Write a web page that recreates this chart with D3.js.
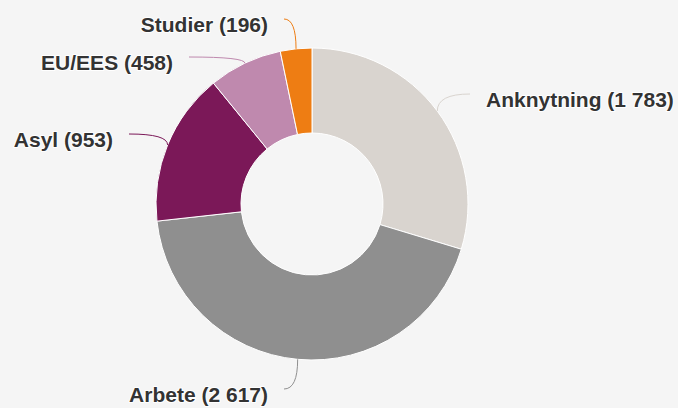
<!DOCTYPE html>
<html>
<head>
<meta charset="utf-8">
<script src="https://cdn.jsdelivr.net/npm/d3@7"></script>
<style>
  html, body { margin: 0; padding: 0; background: #f5f5f5; }
  svg { display: block; }
  .lbl { font-family: "Liberation Sans", Arial, sans-serif; font-weight: bold; font-size: 21px; fill: #333;
         stroke: #fff; stroke-width: 2px; paint-order: stroke; stroke-linejoin: round; }
</style>
</head>
<body>
<div class="chart"></div>
<script>
// Data
var categories = ['Anknytning', 'Arbete', 'Asyl', 'EU/EES', 'Studier'];
var values = [1783, 2617, 953, 458, 196];
var colors = ['#d9d4cf', '#8f8f8f', '#7b1858', '#bf89ae', '#ee7d13'];

// label placement (text anchor x, baseline y, side)
var labelX = [486, 268, 113, 173, 268];
var labelY = [107, 402, 147, 70, 32];
var labelSide = ['right', 'left', 'left', 'left', 'left'];

var width = 678;
var height = 408;
var cx = 312, cy = 204;
var outerR = 156, innerR = 71;

var fmt = function(v) { return d3.format(',')(v).replace(/,/g, ' '); };

var data = categories.map(function(c, i) {
  return { name: c, value: values[i], color: colors[i], lx: labelX[i], ly: labelY[i], side: labelSide[i] };
});

var pie = d3.pie().sort(null).value(function(d) { return d.value; });
var arc = d3.arc().innerRadius(innerR).outerRadius(outerR);

var svg = d3.select('.chart')
            .append('svg')
            .attr('width', width)
            .attr('height', height);

var g = svg.append('g').attr('transform', 'translate(' + cx + ',' + cy + ')');

var arcs = pie(data);

// slices
g.selectAll('path.slice')
 .data(arcs)
 .enter()
 .append('path')
 .attr('class', 'slice')
 .attr('d', arc)
 .style('fill', function(d) { return d.data.color; })
 .style('stroke', '#fff')
 .style('stroke-width', 1);

// connectors
svg.selectAll('path.conn')
   .data(arcs)
   .enter()
   .append('path')
   .attr('class', 'conn')
   .attr('d', function(d) {
     var a = (d.startAngle + d.endAngle) / 2;
     var ex = cx + outerR * Math.sin(a);
     var ey = cy - outerR * Math.cos(a);
     var sx = d.data.side === 'left' ? d.data.lx + 16 : d.data.lx - 16;
     var sy = d.data.ly - 13;
     return 'M' + sx + ',' + sy + 'Q' + ex + ',' + sy + ' ' + ex + ',' + ey;
   })
   .style('fill', 'none')
   .style('stroke', function(d) { return d.data.color; })
   .style('stroke-width', 1);

// labels
svg.selectAll('text.lbl')
   .data(arcs)
   .enter()
   .append('text')
   .attr('class', 'lbl')
   .attr('x', function(d) { return d.data.lx; })
   .attr('y', function(d) { return d.data.ly; })
   .attr('text-anchor', function(d) { return d.data.side === 'left' ? 'end' : 'start'; })
   .text(function(d) { return d.data.name + ' (' + fmt(d.data.value) + ')'; });
</script>
</body>
</html>
